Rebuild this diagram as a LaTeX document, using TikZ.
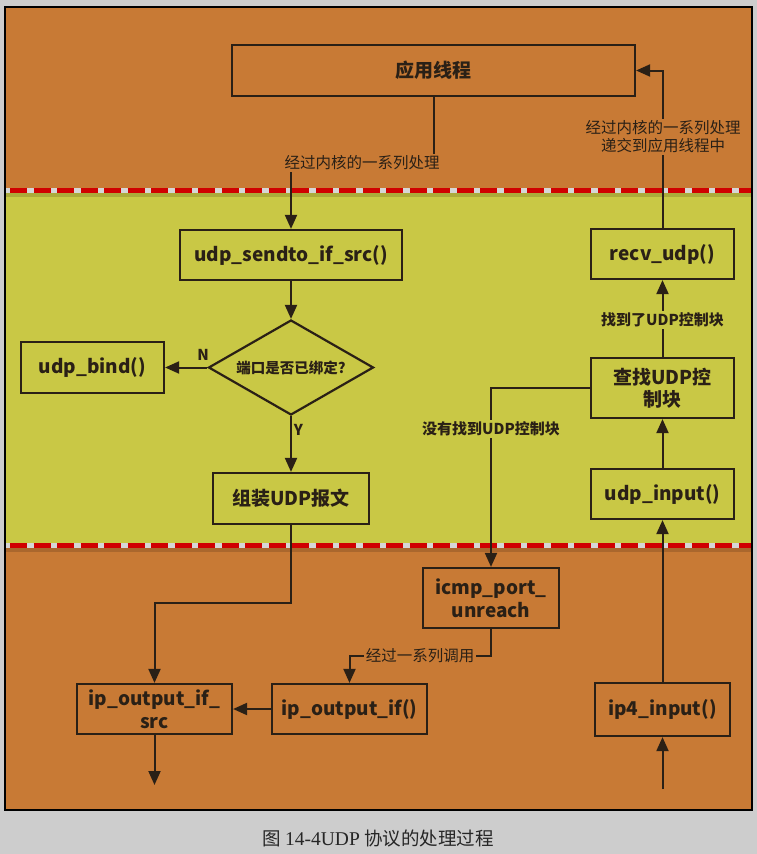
\documentclass[tikz,border=0pt]{standalone}
\usepackage{fontspec}
\setmainfont{Noto Sans CJK SC}
\newfontfamily\serifl{Liberation Serif}
\usetikzlibrary{arrows.meta,shapes.geometric}
\definecolor{bgray}{HTML}{CDCDCD}
\definecolor{orng}{HTML}{C87A35}
\definecolor{ylw}{HTML}{C9C845}
\definecolor{ink}{HTML}{2A2016}
\definecolor{dred}{HTML}{D00000}
\definecolor{gapc}{HTML}{D6D6D6}
\begin{document}
\begin{tikzpicture}[x=1pt,y=-1pt,
  box/.style={draw=ink, line width=2.2pt, text=ink, align=center, inner sep=2pt,
    font=\bfseries\fontsize{19}{23}\selectfont},
  lbl/.style={text=ink, inner sep=1.5pt, align=center, font=\fontsize{15.5}{18}\selectfont},
  blbl/.style={lbl, font=\bfseries\fontsize{15}{18}\selectfont},
  conn/.style={draw=ink, line width=2pt},
  arr/.style={conn, -{Triangle[length=14pt,width=12pt]}},
  sepline/.style={line width=5pt}
]
\useasboundingbox (0,0) rectangle (757,854);
\fill[bgray] (0,0) rectangle (757,854);
% frame and bands
\draw[fill=orng, draw=black, line width=1.5pt] (5,7) rectangle (752,810);
\fill[ylw] (6,190) rectangle (751,545);
% separators
\foreach \yy in {190,545}{
  \draw[black, opacity=0.15, line width=4pt] (6,\yy+4.5) -- (751,\yy+4.5);
  \draw[gapc, sepline] (6,\yy) -- (751,\yy);
  \draw[dred, sepline, dash pattern=on 17pt off 6.5pt, dash phase=-4pt] (6,\yy) -- (751,\yy);
}
% nodes
\node[box, minimum width=403pt, minimum height=51pt] (app) at (433.5,70.5) {应用线程};
\node[box, minimum width=222pt, minimum height=50pt] (sendto) at (291,255) {udp\_sendto\_if\_src()};
\node[draw=ink, line width=2.2pt, diamond, minimum width=165pt, minimum height=95pt, inner sep=0pt] (dec) at (291,367.5) {};
\node[blbl, font=\bfseries\fontsize{14.5}{17}\selectfont] (dectext) at (dec.center) {端口是否已绑定?};
\node[box, minimum width=143pt, minimum height=51pt] (bind) at (92.5,367.5) {udp\_bind()};
\node[box, minimum width=156pt, minimum height=51pt] (zz) at (291,498.5) {组装UDP报文};
\node[box, minimum width=155pt, minimum height=50pt] (ipsrc) at (154.5,709) {ip\_output\_if\_\\src};
\node[box, minimum width=155pt, minimum height=50pt] (ipif) at (349.5,709) {ip\_output\_if()};
\node[box, minimum width=136pt, minimum height=60pt] (icmp) at (491,598) {icmp\_port\_\\unreach};
\node[box, minimum width=143pt, minimum height=50pt] (recv) at (662.5,254) {recv\_udp()};
\node[box, minimum width=143pt, minimum height=60pt] (find) at (662.5,388) {查找UDP控\\[-1pt]制块};
\node[box, minimum width=143pt, minimum height=50pt] (udpin) at (662.5,494) {udp\_input()};
\node[box, minimum width=135pt, minimum height=53pt] (ip4) at (662.5,709.5) {ip4\_input()};
% helper coordinates
\coordinate (k1) at (433.5,163);
\coordinate (k2) at (291,603);
\coordinate (k3) at (491,656);
\coordinate (e1) at (154.5,785);
\coordinate (e2) at (662.5,789);
% connectors
\draw[arr] (app.south) -- (k1) -| (sendto.north);
\draw[arr] (sendto.south) -- (dec.north);
\draw[arr] (dec.west) -- (bind.east);
\draw[arr] (dec.south) -- (zz.north);
\draw[arr] (zz.south) -- (k2) -| (ipsrc.north);
\draw[arr] (ipsrc.south) -- (e1);
\draw[arr] (ipif.west) -- (ipsrc.east);
\draw[arr] (icmp.south) -- (k3) -| (ipif.north);
\draw[arr] (find.west) -| (icmp.north);
\draw[arr] (find.north) -- (recv.south);
\draw[arr] (udpin.north) -- (find.south);
\draw[arr] (ip4.north) -- (udpin.south);
\draw[arr] (e2) -- (ip4.south);
\draw[arr] (recv.north) |- (app.east);
% labels
\node[lbl, fill=orng] (l1) at (362,163) {经过内核的一系列处理};
\node[lbl, fill=orng] (l2) at (663,137) {经过内核的一系列处理\\递交到应用线程中};
\node[blbl, fill=ylw] (l3) at (662.5,320) {找到了UDP控制块};
\node[blbl, fill=ylw] (l4) at (491,429) {没有找到UDP控制块};
\node[lbl, fill=orng] (l5) at (420,656) {经过一系列调用};
\node[blbl] (ln) at (203,355) {N};
\node[blbl] (ly) at (298.5,430) {Y};
% caption
\node[text=black!85, font=\fontsize{18.5}{22}\selectfont] (cap) at (378,838) {图 {\serifl\fontsize{19.5}{22}\selectfont 14-4UDP} 协议的处理过程};
\end{tikzpicture}
\end{document}
